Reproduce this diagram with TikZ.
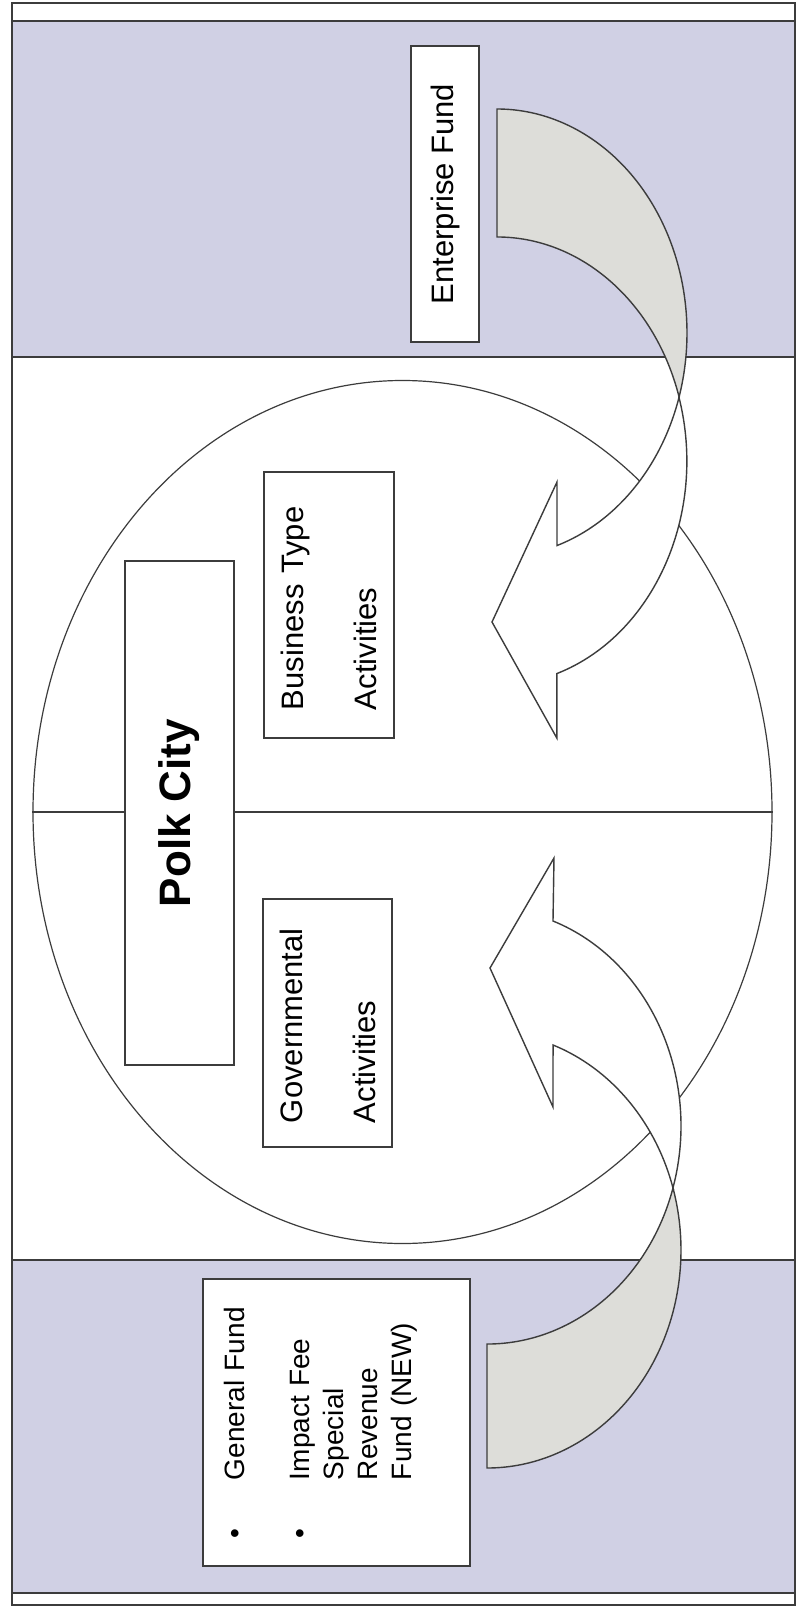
\documentclass[tikz,border=0pt]{standalone}
\usepackage{fontspec}
\setmainfont{Liberation Sans}
\usetikzlibrary{shapes.geometric}
\definecolor{bandlav}{HTML}{D0D0E4}
\definecolor{backgray}{HTML}{DDDDD9}
\definecolor{rulegray}{HTML}{3C3C3C}

\begin{document}
\begin{tikzpicture}[x=0.5pt, y=0.5pt,
    panel/.style={draw=rulegray, line width=1pt},
    fundbox/.style={draw=rulegray, fill=white, line width=0.8pt, rotate=90, inner sep=0pt},
    boxfont/.style={font=\fontsize{15.5}{36.5}\selectfont},
    ribbon/.style={draw=rulegray, line width=0.7pt, fill=#1},
    upr/.style={x radius=190, y radius=224},
    lowr/.style={x radius=194, y radius=218},
]
  \useasboundingbox[fill=white] (0,0) rectangle (812,-1610);

  % fund bands and frame
  \fill[bandlav] (12,-21) rectangle (795,-357);
  \fill[bandlav] (12,-1260) rectangle (795,-1593);
  \draw[panel] (12,-3) rectangle (795,-1605);
  \foreach \yy in {21,357,1260,1593}
    \draw[panel] (12,-\yy) -- (795,-\yy);

  \node[draw=rulegray, line width=0.6pt, ellipse, inner sep=0pt,
        minimum width=369.5pt, minimum height=431.5pt] (city) at (402.5,-812) {};
  \draw[rulegray, line width=0.6pt] (city.west) -- (city.east);

  \node[fundbox, minimum width=252pt, minimum height=54.5pt,
        font=\bfseries\fontsize{22}{26}\selectfont] (polk) at (179.5,-813) {Polk City};
  \node[fundbox, boxfont, minimum width=133pt, minimum height=65pt, inner xsep=14pt,
        text width=105pt, align=left] (bta) at (329,-605) {Business Type\\Activities};
  \node[fundbox, boxfont, minimum width=124pt, minimum height=64.5pt, inner xsep=12pt,
        text width=100pt, align=left] (gov) at (327.5,-1023) {Governmental\\Activities};
  \node[fundbox, boxfont, minimum width=148pt, minimum height=34pt] (ent) at (445,-194) {Enterprise Fund};
  \node[fundbox, minimum width=143.5pt, minimum height=133.5pt, inner xsep=14pt,
        text width=115.5pt, align=left, font=\fontsize{14}{17}\selectfont] (gen) at (336.5,-1422.5)
    {\begin{tabular}{@{}p{29pt}@{}l@{}}
       \textbullet & General Fund\\[15.5pt]
       \textbullet & Impact Fee\\
                   & Special\\
                   & Revenue\\
                   & Fund (NEW)\\[15pt]
     \end{tabular}};

  % enterprise fund -> business type activities
  \path[ribbon=backgray] (497,-109) arc[upr, start angle=90, end angle=-16.6]
    arc[upr, start angle=16.6, end angle=90] -- cycle;
  \path[ribbon=white] (679.1,-397) arc[upr, start angle=-16.6, end angle=-71.6]
    -- (557,-482) -- (492,-622) -- (556.8,-738) -- (556.8,-673.6)
    arc[upr, start angle=-71.6, end angle=16.6] -- cycle;

  % general fund -> governmental activities
  \path[ribbon=backgray] (487,-1468) arc[lowr, start angle=-90, end angle=16.52]
    arc[lowr, start angle=-16.52, end angle=-90] -- cycle;
  \path[ribbon=white] (673,-1188) arc[lowr, start angle=16.52, end angle=70.1]
    -- (553,-1107) -- (490,-968) -- (554,-858) -- (553,-921)
    arc[lowr, start angle=70.1, end angle=-16.52] -- cycle;
\end{tikzpicture}
\end{document}
